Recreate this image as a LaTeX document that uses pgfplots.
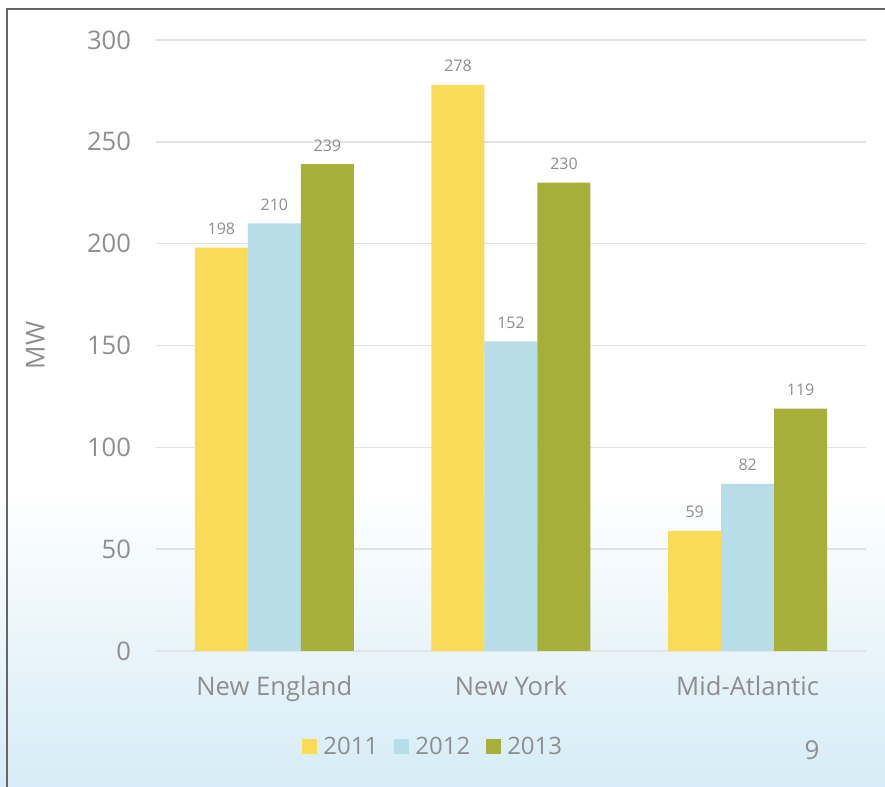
\documentclass[border=0pt]{standalone}
\usepackage{fontspec}
\setmainfont{Open Sans}
\usepackage{pgfplots}
\pgfplotsset{compat=1.18}
\definecolor{cyel}{HTML}{F9DB57}
\definecolor{cblue}{HTML}{B7DDE8}
\definecolor{colive}{HTML}{A5AF3A}
\definecolor{bgblue}{HTML}{D6ECF6}
\definecolor{txtgray}{HTML}{8E8E8E}
\definecolor{gridgray}{HTML}{E3E3E3}

\begin{document}
\begin{tikzpicture}
\useasboundingbox (0pt,0pt) rectangle (442.5pt,393.5pt);
\fill[white] (0pt,0pt) rectangle (442.5pt,393.5pt);
\shade[top color=white, bottom color=bgblue] (0pt,0pt) rectangle (442.5pt,150pt);
\draw[line width=1.1pt, color=black!60] (3.5pt,0pt) -- (3.5pt,389pt) -- (442.5pt,389pt);
\begin{axis}[
  at={(78pt,68pt)}, anchor=south west,
  scale only axis, width=355pt, height=305.5pt,
  ybar=0pt, bar width=26.5pt,
  xmin=-0.5, xmax=2.5, ymin=0, ymax=300,
  xtick={0,1,2},
  xticklabels={New England, New York, Mid-Atlantic},
  ytick={0,50,...,300},
  ymajorgrids, grid style={color=gridgray, line width=0.7pt},
  axis line style={draw=none},
  major tick length=0pt,
  /pgf/number format/assume math mode=true,
  tick label style={color=txtgray},
  yticklabel style={font=\fontsize{12.8}{15}\selectfont, xshift=-9pt},
  xticklabel style={font=\fontsize{12.8}{15}\selectfont, yshift=-9pt},
  ylabel={MW},
  ylabel style={at={(axis description cs:-0.17,0.5)}, anchor=center,
    font=\fontsize{13}{15}\selectfont, color=txtgray},
  nodes near coords,
  every node near coord/.append style={font=\fontsize{8}{10}\selectfont,
    color=txtgray, yshift=3pt},
  legend columns=3,
  legend style={at={(0.392,-0.157)}, anchor=center, draw=none, fill=none,
    font=\fontsize{12}{15}\selectfont, text=txtgray,
    /tikz/every odd column/.append style={column sep=1pt},
    /tikz/every even column/.append style={column sep=6pt}},
  legend image code/.code={\fill[#1] (0pt,-3.75pt) rectangle (7.5pt,3.75pt);},
]
\addplot[fill=cyel, draw=none] coordinates {(0,198) (1,278) (2,59)};
\addplot[fill=cblue, draw=none] coordinates {(0,210) (1,152) (2,82)};
\addplot[fill=colive, draw=none] coordinates {(0,239) (1,230) (2,119)};
\legend{2011, 2012, 2013}
\end{axis}
\node[font=\fontsize{13}{15}\selectfont, color=txtgray] at (406pt,18.5pt) {9};
\end{tikzpicture}
\end{document}
